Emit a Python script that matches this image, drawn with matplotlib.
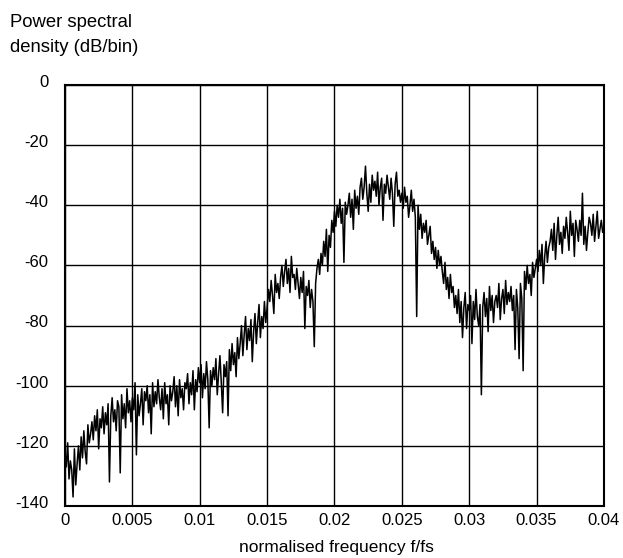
import matplotlib
matplotlib.use('Agg')
import matplotlib.pyplot as plt
import matplotlib.transforms as mtransforms
import numpy as np

plt.rcParams['font.family'] = ['Liberation Sans', 'DejaVu Sans']
plt.rcParams['axes.unicode_minus'] = False

# PSD, one value per 0.0001 of f/fs
psd = [
    -122, -127, -119, -131, -125, -128, -137, -121, -133, -126,
    -120, -128, -117, -124, -115, -122, -126, -113, -119, -116,
    -112, -118, -110, -115, -108, -121, -111, -114, -107, -116,
    -109, -113, -106, -132, -110, -104, -112, -108, -115, -105,
    -107, -129, -103, -111, -106, -114, -101, -109, -105, -112,
    -104, -108, -99, -123, -103, -110, -106, -101, -113, -102,
    -105, -100, -109, -103, -116, -99, -107, -102, -106, -98,
    -104, -108, -101, -111, -99, -106, -103, -113, -100, -105,
    -102, -97, -107, -100, -110, -98, -104, -101, -108, -99,
    -101, -96, -106, -99, -103, -95, -108, -98, -102, -94,
    -99, -93, -104, -96, -101, -92, -98, -114, -95, -100,
    -94, -98, -91, -103, -96, -90, -99, -109, -93, -97,
    -92, -110, -88, -95, -86, -93, -89, -97, -84, -91,
    -86, -80, -90, -83, -77, -88, -81, -85, -78, -92,
    -82, -76, -86, -79, -73, -84, -77, -81, -72, -79,
    -74, -68, -72, -65, -70, -76, -63, -69, -66, -71,
    -64, -60, -67, -62, -58, -66, -61, -69, -57, -64,
    -63, -68, -61, -66, -71, -64, -69, -62, -81, -67,
    -70, -65, -74, -68, -72, -87, -66, -61, -58, -63,
    -56, -60, -52, -57, -48, -62, -50, -54, -45, -49,
    -42, -47, -40, -44, -38, -46, -41, -59, -39, -43,
    -40, -36, -44, -38, -48, -35, -41, -37, -43, -34,
    -31, -38, -34, -27, -36, -42, -33, -39, -30, -35,
    -32, -37, -29, -40, -34, -31, -45, -33, -36, -30,
    -34, -38, -31, -36, -47, -33, -29, -37, -35, -39,
    -36, -41, -34, -39, -37, -44, -40, -35, -42, -38,
    -44, -77, -40, -48, -43, -51, -46, -49, -45, -53,
    -50, -47, -56, -52, -58, -54, -61, -55, -60, -57,
    -62, -66, -59, -68, -64, -71, -63, -69, -67, -74,
    -70, -76, -68, -79, -72, -84, -74, -69, -81, -73,
    -75, -70, -86, -72, -78, -68, -77, -80, -73, -103,
    -74, -69, -77, -71, -82, -67, -75, -70, -79, -72,
    -70, -74, -66, -78, -71, -68, -76, -65, -73, -69,
    -72, -67, -75, -70, -88, -68, -74, -91, -66, -71,
    -95, -62, -68, -60, -66, -63, -70, -59, -64, -61,
    -58, -62, -55, -60, -53, -66, -57, -52, -59, -54,
    -52, -48, -55, -46, -58, -50, -44, -53, -49, -56,
    -47, -51, -44, -49, -55, -42, -50, -46, -57, -45,
    -48, -52, -45, -50, -36, -53, -47, -55, -49, -44,
    -46, -50, -43, -52, -47, -42, -51, -48, -45, -49,
    -47,
]
freq = np.linspace(0, 0.04, len(psd))

xticks = [0, 0.005, 0.01, 0.015, 0.02, 0.025, 0.03, 0.035, 0.04]
xticklabels = ['0', '0.005', '0.01', '0.015', '0.02', '0.025', '0.03', '0.035', '0.04']
yticks = [0, -20, -40, -60, -80, -100, -120, -140]

fig = plt.figure(figsize=(6.23, 5.58), dpi=100)
ax = fig.add_axes([0.1043, 0.0932, 0.8652, 0.7545])
ax.plot(freq, psd, color='black', lw=1.1)

ax.set_xlim(0, 0.04)
ax.set_ylim(-140, 0)
ax.set_xticks(xticks)
ax.set_xticklabels(xticklabels)
ax.set_yticks(yticks)
ax.tick_params(length=0, labelsize=12)
ax.tick_params(axis='x', pad=5)
ax.tick_params(axis='y', pad=12)
# y labels sit a few pixels above their grid lines
up = mtransforms.ScaledTranslation(0, 3 / 72, fig.dpi_scale_trans)
for lab in ax.get_yticklabels():
    lab.set_transform(lab.get_transform() + up)
ax.grid(True, color='black', lw=1)
for s in ax.spines.values():
    s.set_linewidth(1.5)

fig.text(0.016, 0.975, 'Power spectral\ndensity (dB/bin)', fontsize=13.3,
         va='top', ha='left', linespacing=1.64)
fig.text(0.54, 0.018, 'normalised frequency f/fs', fontsize=12.5,
         ha='center', va='center')

plt.savefig('out.png', dpi=100)
